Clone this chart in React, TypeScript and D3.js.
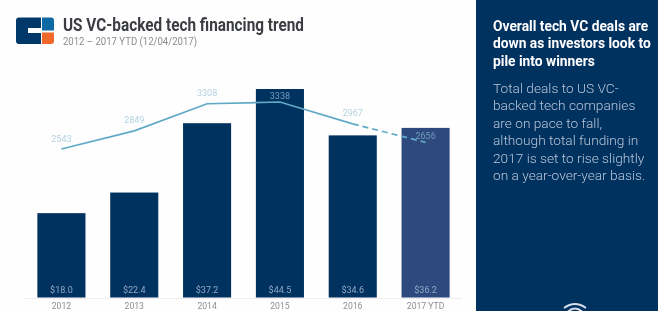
import React from 'react';
import * as d3 from 'd3';

const years = ['2012', '2013', '2014', '2015', '2016', '2017 YTD'];
const funding = [18.0, 22.4, 37.2, 44.5, 34.6, 36.2];
const deals = [2543, 2849, 3308, 3338, 2967, 2656];
const bodyLines = [
    'Total deals to US VC-',
    'backed tech companies',
    'are on pace to fall,',
    'although total funding in',
    '2017 is set to rise slightly',
    'on a year-over-year basis.',
];
const headLines = ['Overall tech VC deals are', 'down as investors look to', 'pile into winners'];

const width = 658;
const height = 311;
const baseline = 297.5;
const navy = '#03305f';
const font = 'Roboto, sans-serif';

const x = d3.scaleBand().domain(years).range([25, 462]).paddingInner(0.34).paddingOuter(0.17);
const yBar = d3.scaleLinear().domain([0, 44.5]).range([baseline, 89]);
const yLine = d3.scaleLinear().domain([2543, 3338]).range([149, 102]);

export default function App() {
    const cx = (d: string) => x(d)! + x.bandwidth() / 2;
    const line = d3
        .line<number>()
        .x((_, i) => cx(years[i]))
        .y((d) => yLine(d));
    const solid = line(deals.slice(0, 5))!;
    // last segment is the projection, so it goes dashed
    const dashed = d3
        .line<number>()
        .x((_, i) => cx(years[i + 4]))
        .y((d) => yLine(d))(deals.slice(4))!;

    // labels that would land on top of their bar sit closer to the line
    const insideBar = (i: number) => yLine(deals[i]) - 7.5 > yBar(funding[i]);

    return (
        <svg
            width={width}
            height={height}
            style={{ position: 'absolute', left: 0, top: 0, background: '#fefefe', fontFamily: font }}
        >
            <defs>
                <filter id="soft" x="0" y="0" width="100%" height="100%">
                    <feGaussianBlur stdDeviation="0.5" />
                </filter>
            </defs>
            <g filter="url(#soft)">
                {/* logo */}
                <path d="M19 17.5H41V28H28V33H41V44H19Q16 44 16 41V20.5Q16 17.5 19 17.5Z" fill="#03386b" />
                <path d="M42 17.5H51Q54 17.5 54 20.5V30.5H42Z" fill="#0f6aa5" />
                <path d="M42 32.5H54V41Q54 44 51 44H42Z" fill="#f0672a" />

                <text x={63} y={31} fontSize={17.5} fontWeight={700} fill="#3a3d42" textLength={241} lengthAdjust="spacingAndGlyphs">
                    US VC-backed tech financing trend
                </text>
                <text x={63} y={45} fontSize={10.5} fill="#8a8d91" textLength={134} lengthAdjust="spacingAndGlyphs">
                    2012 – 2017 YTD (12/04/2017)
                </text>

                <line x1={25} x2={462} y1={baseline + 1} y2={baseline + 1} stroke="#eeeeee" />

                {years.map((d, i) => (
                    <g key={d}>
                        <rect
                            x={x(d)}
                            y={yBar(funding[i])}
                            width={x.bandwidth()}
                            height={baseline - yBar(funding[i])}
                            fill={i === 5 ? '#2f4a7d' : navy}
                        />
                        <text x={cx(d)} y={293} textAnchor="middle" fontSize={9} fill="#8fa9c6">
                            ${funding[i].toFixed(1)}
                        </text>
                        <text x={cx(d)} y={309} textAnchor="middle" fontSize={8.6} fill="#8b8e92">
                            {d}
                        </text>
                    </g>
                ))}

                <path d={solid} fill="none" stroke="#5fa9c6" strokeWidth={1.7} />
                <path d={dashed} fill="none" stroke="#5fa9c6" strokeWidth={1.7} strokeDasharray="6 4" />

                {deals.map((d, i) => (
                    <text
                        key={i}
                        x={cx(years[i])}
                        y={yLine(d) - (insideBar(i) ? 3 : 7.5)}
                        textAnchor="middle"
                        fontSize={9}
                        fill={insideBar(i) ? '#6f9cbf' : '#b4d2e0'}
                    >
                        {d}
                    </text>
                ))}

                {/* right panel */}
                <rect x={476} y={0} width={182} height={height} fill={navy} />
                {headLines.map((t, i) => (
                    <text key={t} x={493} y={31 + i * 17.3} fontSize={13.8} fontWeight={700} fill="#fff">
                        {t}
                    </text>
                ))}
                {bodyLines.map((t, i) => (
                    <text key={t} x={493} y={93 + i * 17.4} fontSize={13.7} fontWeight={300} fill="#b7c6d8">
                        {t}
                    </text>
                ))}

                {/* wifi-ish mark at the bottom, cut off by the page edge */}
                <g fill="none" stroke="#d5deea" strokeWidth={2}>
                    <path d="M564 308Q575 300 586 308" />
                    <path d="M568 311.5Q575 305.5 582 311.5" />
                </g>
            </g>
        </svg>
    );
}
